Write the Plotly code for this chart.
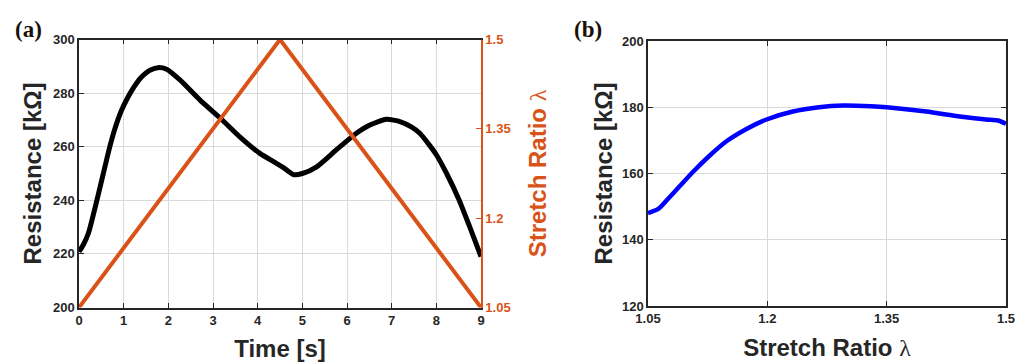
import plotly.graph_objects as go

# ---- data ----
time_s = [0, 0.1, 0.21, 0.4, 0.58, 0.69, 0.8, 0.95, 1.08, 1.2, 1.3, 1.4, 1.5, 1.6, 1.77, 1.96,
          2.26, 2.71, 3.16, 3.6, 4.05, 4.42, 4.57, 4.8, 5.0, 5.32, 5.76, 6.21, 6.5, 6.88, 7.2,
          7.45, 7.63, 7.85, 8.0, 8.23, 8.5, 8.75, 9.0]
resistance_a = [220.8, 223.5, 227.7, 240.0, 252.5, 260.0, 266.5, 273.5, 278.0, 281.5, 284.0, 286.0,
                287.5, 288.6, 289.5, 288.9, 284.9, 277.4, 270.7, 263.7, 257.5, 253.8, 252.3, 249.6,
                250.0, 252.5, 258.8, 265.0, 268.0, 270.2, 269.3, 267.3, 265.0, 260.5, 257.0,
                250.0, 240.5, 230.0, 219.0]

time_stretch = [0, 4.5, 9]
stretch_a = [1.05, 1.5, 1.05]

stretch_b = [1.05, 1.063, 1.075, 1.09, 1.107, 1.128, 1.149, 1.175, 1.199, 1.232, 1.265, 1.295,
             1.33, 1.35, 1.40, 1.442, 1.475, 1.49, 1.5]
resistance_b = [148.0, 149.3, 152.3, 156.2, 160.6, 165.5, 169.8, 173.6, 176.3, 178.7, 180.0, 180.5,
                180.3, 180.0, 178.7, 177.2, 176.3, 176.0, 175.0]

x_ticks_a = [0, 1, 2, 3, 4, 5, 6, 7, 8, 9]
y_ticks_a = [200, 220, 240, 260, 280, 300]
y2_ticks_a = [1.05, 1.2, 1.35, 1.5]
y2_ticklabels_a = ["1.05", "1.2", "1.35", "1.5"]
x_ticks_b = [1.05, 1.2, 1.35, 1.5]
x_ticklabels_b = ["1.05", "1.2", "1.35", "1.5"]
y_ticks_b = [120, 140, 160, 180, 200]

# ---- style ----
W, H = 1016, 363
ORANGE = "#D95319"
AXC = "#262626"
GRID = "#d9d9d9"
FONT = "Liberation Sans, Arial, sans-serif"
LAM = '<span style="font-family:Liberation Serif, DejaVu Serif, serif;font-weight:normal">λ</span>'

def dx(a, b):
    return [a / W, b / W]

def dy(top, bottom):
    return [1 - bottom / H, 1 - top / H]

fig = go.Figure()

fig.add_trace(go.Scatter(x=time_s, y=resistance_a, mode="lines",
                         line=dict(color="black", width=5, shape="spline", smoothing=0.6),
                         xaxis="x", yaxis="y", showlegend=False))
fig.add_trace(go.Scatter(x=time_stretch, y=stretch_a, mode="lines",
                         line=dict(color=ORANGE, width=4),
                         xaxis="x", yaxis="y2", showlegend=False))
fig.add_trace(go.Scatter(x=stretch_b, y=resistance_b, mode="lines",
                         line=dict(color="#0000FF", width=4.5, shape="spline", smoothing=0.6),
                         xaxis="x2", yaxis="y3", showlegend=False))

tickfont = dict(family=FONT, size=13, color=AXC, weight="bold")
titlefont = dict(family=FONT, size=24, color=AXC, weight="bold")

common = dict(showline=True, linecolor=AXC, linewidth=1.5, ticks="inside", ticklen=5,
              tickcolor=AXC, tickwidth=1.2, showgrid=True, gridcolor=GRID, gridwidth=1,
              zeroline=False, tickfont=tickfont, fixedrange=True, automargin=False)

fig.update_layout(
    width=W, height=H,
    margin=dict(l=0, r=0, t=0, b=0),
    paper_bgcolor="white", plot_bgcolor="white",
    xaxis=dict(common, domain=dx(79, 481), range=[0, 9], tickvals=x_ticks_a, mirror="ticks",
               anchor="y", title=dict(text="Time [s]", font=titlefont, standoff=13)),
    yaxis=dict(common, domain=dy(39.5, 307.5), range=[200, 300], tickvals=y_ticks_a,
               anchor="x", mirror=False,
               title=dict(text="Resistance [kΩ]", font=titlefont, standoff=5)),
    yaxis2=dict(showline=True, linecolor=ORANGE, linewidth=1.5, ticks="inside", ticklen=5,
                tickcolor=ORANGE, tickwidth=1.2, showgrid=False, zeroline=False,
                overlaying="y", side="right", anchor="x", range=[1.05, 1.5],
                tickvals=y2_ticks_a, ticktext=y2_ticklabels_a, automargin=False,
                tickfont=dict(family=FONT, size=13, color=ORANGE, weight="bold"),
                title=dict(text="Stretch Ratio " + LAM,
                           font=dict(family=FONT, size=24, color=ORANGE, weight="bold"),
                           standoff=20), fixedrange=True),
    xaxis2=dict(common, domain=dx(648, 1006), range=[1.05, 1.5], tickvals=x_ticks_b,
                ticktext=x_ticklabels_b, mirror="ticks", anchor="y3",
                title=dict(text="Stretch Ratio " + LAM, font=titlefont, standoff=14)),
    yaxis3=dict(common, domain=dy(41, 306), range=[120, 200], tickvals=y_ticks_b,
                mirror="ticks", anchor="x2",
                title=dict(text="Resistance [kΩ]", font=titlefont, standoff=3)),
    annotations=[
        dict(text="(a)", x=28 / W, y=1 - 29 / H, xref="paper", yref="paper", showarrow=False,
             font=dict(family="Liberation Serif, DejaVu Serif, serif", size=23, color="#1a1008",
                       weight="bold"), xanchor="center", yanchor="middle"),
        dict(text="(b)", x=588 / W, y=1 - 30 / H, xref="paper", yref="paper", showarrow=False,
             font=dict(family="Liberation Serif, DejaVu Serif, serif", size=23, color="#1a1008",
                       weight="bold"), xanchor="center", yanchor="middle"),
    ],
)

fig.write_html("out.html")
